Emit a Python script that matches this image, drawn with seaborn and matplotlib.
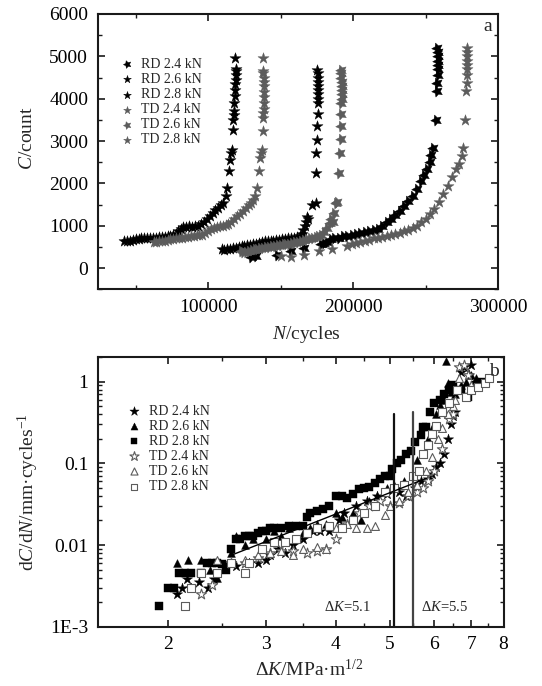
import matplotlib
matplotlib.use("Agg")
import matplotlib.pyplot as plt
import seaborn as sns
import numpy as np
import pandas as pd
from matplotlib.ticker import FixedLocator, NullFormatter, LogLocator, MultipleLocator

# ---------------- Panel a data: (N cycles, C count) ----------------
rd24_a = [(129200,270),(133200,280),(147700,320),(156800,400),(166000,480),(177500,560),(180000,600),
          (182000,620),(184400,680),(187000,700),(190000,720),(193000,750),(196000,760),(199000,780),
          (202000,800),(205000,820),(208000,860),(211000,880),(214000,900),(217000,930),(220000,1000),
          (223000,1080),(226000,1150),(229000,1250),(232000,1350),(235000,1460),(238000,1580),
          (241000,1700),(244000,1860),(247000,2050),(249000,2200),(251000,2330),(253000,2500),
          (253500,2680),(255000,2840),(257000,3500),(258000,4175),(258000,4370),(258200,4570),
          (258200,4700),(258300,4800),(258300,4900),(258200,5000),(258100,5100),(258000,5200)]
rd26_a = [(109700,440),(111000,420),(113000,440),(115000,460),(117000,470),(119000,480),(121000,500),
          (123000,520),(125000,530),(127000,540),(129000,550),(131000,570),(133000,580),(135000,600),
          (137000,610),(139000,630),(141000,640),(143000,650),(145000,650),(147000,660),(149000,670),
          (151000,680),(153000,690),(155000,700),(157000,710),(159000,720),(161000,730),(163000,750),
          (164500,800),(165500,900),(166500,1000),(167500,1100),(168300,1200),(169000,1150),
          (171500,1500),(174000,1530),(174000,2250),(174500,2720),(175000,3030),(175300,3360),
          (175500,3640),(175600,3900),(175700,4000),(175800,4100),(175800,4200),(175700,4300),
          (175600,4400),(175500,4500),(175400,4600),(175300,4680)]
rd28_a = [(42000,630),(44000,640),(46000,650),(48000,670),(50000,680),(52000,690),(54000,700),
          (56000,700),(58000,710),(60000,710),(62000,720),(64000,720),(66000,730),(68000,740),
          (70000,740),(72000,750),(74000,760),(76000,770),(78000,800),(79500,880),(81000,920),
          (83000,960),(85000,980),(87000,990),(89000,970),(91000,990),(93000,1000),(95000,1030),
          (97000,1100),(99000,1160),(101000,1230),(103000,1300),(105000,1370),(107000,1420),
          (109000,1480),(110500,1540),(112000,1700),(113200,1880),(114500,2300),(115400,2560),
          (116000,2720),(116600,2780),(117000,3270),(117400,3500),(117700,3620),(117900,3700),
          (118100,3900),(118300,4060),(118500,4200),(118700,4350),(118900,4450),(119100,4550),
          (119300,4650),(119500,4700),(118800,4960)]
td24_a = [(149900,280),(156800,260),(166000,320),(176300,400),(185600,440),(196000,520),(199000,560),
          (202000,590),(205000,620),(208000,650),(211000,670),(214000,700),(217000,720),(220000,740),
          (223000,760),(226000,790),(229000,810),(232000,840),(235000,870),(238000,900),(241000,950),
          (244000,1000),(247000,1080),(250000,1170),(253000,1280),(256000,1400),(259000,1550),
          (262000,1760),(265000,1950),(268000,2150),(271000,2330),(273000,2450),(275200,2640),
          (276000,2840),(277000,3500),(278000,4175),(278300,4370),(278500,4570),(278500,4700),
          (278600,4800),(278600,4900),(278500,5000),(278400,5100),(278300,5200)]
td26_a = [(122300,400),(124000,370),(126000,380),(128000,400),(130000,420),(132000,440),(134000,460),
          (136000,470),(138000,480),(140000,500),(142000,510),(144000,520),(146000,530),(148000,540),
          (150000,550),(152000,560),(154000,570),(156000,580),(158000,600),(160000,610),(162000,620),
          (164000,640),(166000,660),(168000,680),(170000,700),(172000,720),(174000,740),(176000,760),
          (178000,790),(180000,850),(182000,950),(184000,1070),(185000,1150),(186000,1100),
          (187000,1300),(188000,1540),(189000,1560),(190000,2250),(190800,2720),(191300,3050),
          (191600,3360),(191800,3640),(191900,3900),(192000,4000),(192100,4100),(192200,4200),
          (192100,4300),(192000,4400),(191900,4500),(191800,4600),(191700,4680)]
td28_a = [(62600,615),(64000,620),(66000,630),(68000,640),(70000,650),(72000,660),(74000,680),
          (76000,690),(78000,700),(80000,710),(82000,720),(84000,730),(86000,740),(88000,750),
          (90000,760),(92000,770),(94000,780),(96000,790),(98000,820),(100000,880),(102000,920),
          (104000,950),(106000,970),(108000,990),(110000,1000),(112000,1010),(114000,1040),
          (116000,1100),(118000,1150),(120000,1220),(122000,1280),(124000,1360),(126000,1430),
          (128000,1500),(129500,1540),(131000,1600),(132300,1700),(134000,1900),(135200,2290),
          (136000,2600),(136400,2720),(136800,2780),(137500,3230),(137800,3540),(138000,3660),
          (138200,3750),(138400,3900),(138500,4050),(138600,4150),(138700,4300),(138500,4400),
          (138300,4500),(138100,4600),(137900,4650),(137800,4950)]

# ---------------- Panel b data: (dK, dC/dN) ----------------
rd24_b = [(2.08,0.0025),(2.12,0.003),(2.17,0.0038),(2.2,0.003),(2.28,0.0035),(2.36,0.003),(2.42,0.0038),
          (2.55,0.0055),(2.65,0.0055),(2.8,0.006),(2.9,0.006),(3.0,0.0065),(3.05,0.0075),(3.15,0.009),
          (3.25,0.008),(3.35,0.01),(3.5,0.012),(3.65,0.015),(3.75,0.015),(3.9,0.015),(4.05,0.02),
          (4.15,0.025),(4.35,0.03),(4.55,0.035),(4.75,0.04),(4.95,0.042),(5.2,0.045),(5.35,0.04),
          (5.55,0.05),(5.7,0.06),(5.85,0.065),(5.95,0.075),(6.05,0.09),(6.15,0.1),(6.25,0.13),
          (6.35,0.2),(6.45,0.3),(6.5,0.38),(6.55,0.42),(6.7,1.3),(6.8,1.5),(6.95,1.2),(7.0,1.6)]
rd26_b = [(2.08,0.006),(2.18,0.0065),(2.3,0.0065),(2.38,0.005),(2.45,0.004),(2.6,0.008),(2.65,0.013),
          (2.75,0.01),(2.85,0.012),(3.0,0.012),(3.1,0.015),(3.2,0.013),(3.3,0.016),(3.5,0.014),
          (3.6,0.016),(3.7,0.018),(3.85,0.018),(4.0,0.025),(4.1,0.022),(4.3,0.025),(4.45,0.02),
          (4.6,0.035),(4.75,0.04),(4.95,0.05),(5.1,0.055),(5.3,0.06),(5.6,0.11),(5.75,0.13),
          (5.85,0.2),(5.95,0.27),(6.05,0.4),(6.15,0.52),(6.25,0.6),(6.35,0.95),(6.45,0.75),
          (6.3,1.8),(6.55,0.7),(6.7,0.9),(6.85,1.0),(7.0,1.2),(7.15,1.1)]
rd28_b = [(1.93,0.0018),(2.0,0.003),(2.05,0.003),(2.1,0.0045),(2.15,0.0045),(2.2,0.0045),(2.3,0.0045),
          (2.35,0.006),(2.4,0.006),(2.45,0.006),(2.5,0.0058),(2.55,0.005),(2.6,0.009),(2.65,0.012),
          (2.7,0.012),(2.75,0.013),(2.8,0.013),(2.85,0.013),(2.9,0.014),(2.95,0.015),(3.0,0.015),
          (3.05,0.016),(3.1,0.016),(3.2,0.016),(3.3,0.017),(3.4,0.017),(3.5,0.017),(3.55,0.022),
          (3.6,0.025),(3.7,0.026),(3.8,0.028),(3.9,0.03),(4.0,0.04),(4.1,0.04),(4.2,0.038),
          (4.3,0.042),(4.4,0.048),(4.5,0.05),(4.6,0.052),(4.7,0.058),(4.8,0.065),(4.9,0.07),
          (5.0,0.07),(5.05,0.085),(5.15,0.1),(5.25,0.11),(5.35,0.13),(5.45,0.14),(5.55,0.18),
          (5.7,0.22),(5.75,0.28),(5.8,0.28),(5.9,0.42),(6.0,0.55),(6.15,0.6),(6.25,0.7),(6.4,0.8),
          (6.5,0.9),(6.7,0.8),(6.9,0.65),(7.1,0.9),(7.3,1.0)]
td24_b = [(2.3,0.0025),(2.4,0.0032),(2.6,0.006),(2.75,0.006),(2.9,0.007),(3.05,0.008),(3.2,0.0085),
          (3.35,0.0085),(3.55,0.008),(3.7,0.0085),(3.85,0.009),(4.0,0.012),(4.2,0.018),(4.4,0.025),
          (4.6,0.03),(4.8,0.035),(5.0,0.03),(5.2,0.033),(5.4,0.04),(5.6,0.045),(5.75,0.05),
          (5.85,0.06),(6.0,0.08),(6.2,0.15),(6.4,0.35),(6.5,0.4),(6.65,1.5),(6.8,1.6),(6.9,1.2)]
td26_b = [(2.45,0.0065),(2.6,0.006),(2.75,0.0065),(2.9,0.0075),(3.05,0.008),(3.2,0.0085),(3.35,0.0075),
          (3.5,0.009),(3.7,0.0095),(3.85,0.009),(4.0,0.016),(4.2,0.018),(4.35,0.016),(4.55,0.016),
          (4.7,0.017),(4.9,0.023),(5.0,0.03),(5.2,0.035),(5.4,0.045),(5.6,0.055),(5.8,0.08),
          (5.95,0.12),(6.1,0.2),(6.2,0.27),(6.35,0.4),(6.5,0.5),(6.55,0.6),(6.65,1.1),(6.85,0.65),(7.0,0.9)]
td28_b = [(2.15,0.0018),(2.2,0.003),(2.3,0.0045),(2.45,0.0045),(2.6,0.006),(2.75,0.0045),(2.8,0.006),
          (2.95,0.009),(3.1,0.011),(3.25,0.011),(3.4,0.012),(3.55,0.014),(3.7,0.016),(3.9,0.017),
          (4.1,0.016),(4.3,0.02),(4.5,0.025),(4.7,0.03),(4.9,0.045),(5.1,0.05),(5.3,0.055),
          (5.5,0.07),(5.65,0.08),(5.75,0.13),(5.85,0.17),(5.95,0.23),(6.05,0.29),(6.2,0.42),
          (6.4,0.55),(6.6,0.8),(6.85,0.65),(7.0,0.8),(7.2,0.85),(7.4,0.95),(7.55,1.1)]

fit_dk = [2.6, 5.8]
fit_rate = [0.0075, 0.065]
dk_marks = [5.1, 5.5]
dk_mark_tops = [0.4, 0.43]
labels = ["RD 2.4 kN", "RD 2.6 kN", "RD 2.8 kN", "TD 2.4 kN", "TD 2.6 kN", "TD 2.8 kN"]

# ---------------- style ----------------
sns.set_theme(style="ticks")
plt.rcParams["font.family"] = ["Liberation Serif", "DejaVu Serif"]
plt.rcParams["mathtext.fontset"] = "custom"
plt.rcParams["mathtext.rm"] = "Liberation Serif"
plt.rcParams["mathtext.it"] = "Liberation Serif:italic"
plt.rcParams["axes.unicode_minus"] = False

BLACK = "#000000"
GRAY = "#5c5c5c"
TICK_FS = 14
LAB_FS = 14

fig = plt.figure(figsize=(5.42, 6.86), dpi=100)
axa = fig.add_axes([0.1806, 0.5783, 0.7388, 0.4013])
axb = fig.add_axes([0.1806, 0.0864, 0.7484, 0.3936])

def style_axes(ax):
    for sp in ax.spines.values():
        sp.set_linewidth(1.5)
        sp.set_color("#1a1a1a")
        sp.set_visible(True)
    ax.tick_params(which="both", direction="in", top=True, right=True, colors="#1a1a1a",
                   labelcolor="black", labelsize=TICK_FS)
    ax.tick_params(which="major", length=5, width=1.2, pad=7)
    ax.tick_params(which="minor", length=3, width=1.0)

# ---------------- Panel a ----------------
tilted_star = (5, 1, 20)
series_a = [(rd24_a, BLACK, tilted_star), (rd26_a, BLACK, "*"), (rd28_a, BLACK, "*"),
            (td24_a, GRAY, "*"), (td26_a, GRAY, tilted_star), (td28_a, GRAY, "*")]
for (pts, col, mk), lab in zip(series_a, labels):
    df = pd.DataFrame(pts, columns=["N", "C"])
    sns.scatterplot(data=df, x="N", y="C", ax=axa, marker=mk, color=col, s=70,
                    edgecolor=col, linewidth=0.3, label=lab)

axa.set_xlim(24000, 300000)
axa.set_ylim(-500, 6000)
axa.xaxis.set_major_locator(FixedLocator([100000, 200000, 300000]))
axa.xaxis.set_minor_locator(MultipleLocator(50000))
axa.yaxis.set_major_locator(MultipleLocator(1000))
axa.yaxis.set_minor_locator(MultipleLocator(500))
axa.set_yticks([0, 1000, 2000, 3000, 4000, 5000, 6000])
axa.set_xlabel("$N$/cycles", fontsize=LAB_FS)
axa.set_ylabel("$C$/count", fontsize=LAB_FS)
axa.xaxis.set_label_coords(0.52, -0.125)
axa.yaxis.set_label_coords(-0.155, 0.55)
style_axes(axa)
axa.text(0.974, 0.954, "a", transform=axa.transAxes, ha="center", va="center", fontsize=TICK_FS)
axa.legend(loc="upper left", bbox_to_anchor=(0.055, 0.84), frameon=False, fontsize=10,
           handlelength=1.0, handletextpad=0.5, labelspacing=0.15, borderpad=0,
           borderaxespad=0, markerscale=0.7)

# ---------------- Panel b ----------------
series_b = [(rd24_b, BLACK, BLACK, "*", 60), (rd26_b, BLACK, BLACK, "^", 32), (rd28_b, BLACK, BLACK, "s", 27),
            (td24_b, "white", GRAY, "*", 60), (td26_b, "white", GRAY, "^", 32), (td28_b, "white", GRAY, "s", 27)]
for (pts, fc, ec, mk, sz), lab in zip(series_b, labels):
    df = pd.DataFrame(pts, columns=["dK", "rate"])
    sns.scatterplot(data=df, x="dK", y="rate", ax=axb, marker=mk, color=fc, s=sz,
                    edgecolor=ec, linewidth=0.8 if fc == "white" else 0.3, label=lab)

sns.lineplot(x=fit_dk, y=fit_rate, ax=axb, color="black", linewidth=1.0, legend=False)
for xv, top, col in zip(dk_marks, dk_mark_tops, ["#111111", "#444444"]):
    axb.plot([xv, xv], [1e-3, top], color=col, linewidth=1.6)

axb.set_xscale("log")
axb.set_yscale("log")
axb.set_xlim(1.5, 8)
axb.set_ylim(1e-3, 2.02)
axb.xaxis.set_major_locator(FixedLocator([2, 3, 4, 5, 6, 7, 8]))
axb.set_xticklabels(["2", "3", "4", "5", "6", "7", "8"])
axb.xaxis.set_minor_locator(FixedLocator([2.5, 3.5, 4.5, 5.5, 6.5, 7.5]))
axb.xaxis.set_minor_formatter(NullFormatter())
axb.yaxis.set_major_locator(FixedLocator([1e-3, 1e-2, 1e-1, 1]))
axb.set_yticklabels(["1E-3", "0.01", "0.1", "1"])
axb.yaxis.set_minor_locator(LogLocator(base=10, subs=np.arange(2, 10)))
axb.yaxis.set_minor_formatter(NullFormatter())
axb.set_xlabel("Δ$K$/MPa·m$^{1/2}$", fontsize=LAB_FS)
axb.set_ylabel("d$C$/d$N$/mm·cycles$^{-1}$", fontsize=LAB_FS)
axb.xaxis.set_label_coords(0.52, -0.12)
axb.yaxis.set_label_coords(-0.14, 0.5)
style_axes(axb)
axb.text(3.82, 0.00176, "Δ$K$=5.1", ha="left", va="center", fontsize=10.5)
axb.text(5.69, 0.00176, "Δ$K$=5.5", ha="left", va="center", fontsize=10.5)
axb.text(0.977, 0.944, "b", transform=axb.transAxes, ha="center", va="center", fontsize=TICK_FS)
axb.legend(loc="upper left", bbox_to_anchor=(0.071, 0.822), frameon=False, fontsize=10,
           handlelength=1.0, handletextpad=0.6, labelspacing=0.15, borderpad=0,
           borderaxespad=0, markerscale=0.9)

fig.savefig("out.png", dpi=100)
